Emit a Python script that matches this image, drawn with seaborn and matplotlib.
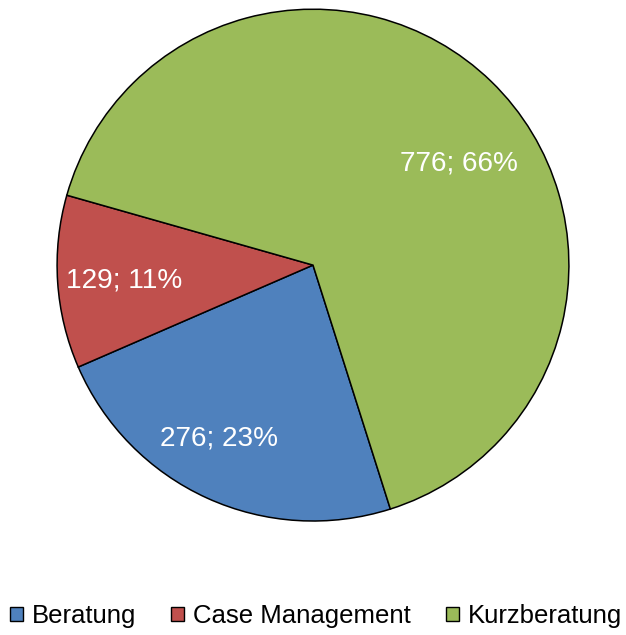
import matplotlib
matplotlib.use("Agg")
import matplotlib.pyplot as plt
import seaborn as sns
import numpy as np
from matplotlib.patches import Patch

categories = ["Beratung", "Case Management", "Kurzberatung"]
counts = [276, 129, 776]
colors = ["#4F81BD", "#C0504D", "#9BBB59"]

sns.set_style("white")
plt.rcParams['font.family'] = ['Liberation Sans', 'DejaVu Sans']
plt.rcParams['text.color'] = 'black'

total = sum(counts)


def fmt(p):
    return f"{int(round(p * total / 100))}; {p:.0f}%"


fig = plt.figure(figsize=(6.26, 6.35), dpi=100)
ax = fig.add_axes([0.091, 0.1795, 0.818, 0.806])

wedges, texts = ax.pie(
    counts,
    colors=colors,
    startangle=-72.4,
    counterclock=False,
    radius=1,
    wedgeprops=dict(edgecolor="black", linewidth=1.1),
    labels=[fmt(100 * c / total) for c in counts],
    labeldistance=0.74,
    textprops=dict(color="white", fontsize=20.2),
)
# label placement like Excel's best fit (angle, distance)
label_pos = [(-118.5, 0.77), (-175.4, 0.74), (34.9, 0.695)]
for t, (a, d) in zip(texts, label_pos):
    r = np.deg2rad(a)
    t.set_position((d * np.cos(r), d * np.sin(r)))
    t.set_ha("center")
    t.set_va("center")

ax.set_xlim(-1, 1)
ax.set_ylim(-1, 1)
ax.set_aspect("equal")
ax.axis("off")

handles = [Patch(facecolor=c, edgecolor="black", linewidth=1) for c in colors]
fig.legend(handles, categories, loc="center", bbox_to_anchor=(0.505, 0.03),
           ncol=3, frameon=False, fontsize=18.5, handlelength=0.5,
           handleheight=0.5, handletextpad=0.35, columnspacing=1.36,
           borderpad=0, borderaxespad=0, labelcolor="black")

fig.savefig("out.png", dpi=100)
